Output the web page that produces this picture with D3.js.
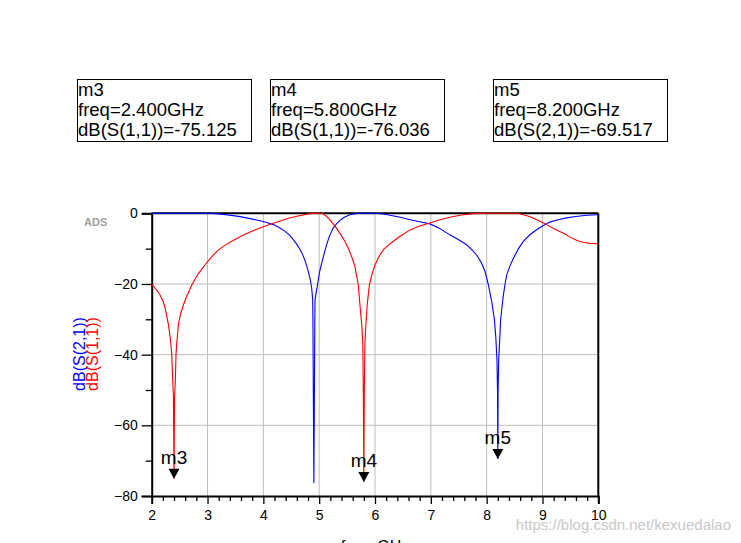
<!DOCTYPE html>
<html>
<head>
<meta charset="utf-8">
<script src="https://cdn.jsdelivr.net/npm/d3@7"></script>
<style>
  html, body { margin: 0; padding: 0; background: #fff; }
  svg { display: block; font-family: Arial, "Liberation Sans", sans-serif; }
</style>
</head>
<body>
<svg id="chart" width="741" height="543"></svg>
<script>
// ---------- data ----------
const freqS11 = [2.0, 2.05, 2.10, 2.15, 2.20, 2.24, 2.30, 2.33, 2.36, 2.375, 2.39, 2.40, 2.41, 2.425, 2.435, 2.45, 2.48, 2.52, 2.57, 2.63, 2.72, 2.83, 2.95, 3.07, 3.19, 3.34, 3.49, 3.67, 3.85, 4.0, 4.18, 4.3, 4.45, 4.66, 4.84, 4.95, 5.05, 5.12, 5.19, 5.25, 5.31, 5.37, 5.45, 5.52, 5.58, 5.64, 5.70, 5.73, 5.767, 5.782, 5.792, 5.80, 5.808, 5.818, 5.833, 5.86, 5.90, 5.95, 6.0, 6.07, 6.15, 6.27, 6.45, 6.63, 6.8, 6.985, 7.15, 7.34, 7.55, 7.76, 8.0, 8.3, 8.55, 8.66, 8.78, 8.90, 9.01, 9.13, 9.25, 9.37, 9.48, 9.58, 9.66, 9.73, 9.85, 10.0];
const dbS11 = [-20.0, -21.0, -22.0, -23.1, -24.8, -26.8, -31.5, -35.0, -40.0, -46.6, -52, -75.125, -52, -46.6, -40.0, -36.5, -31.3, -28.3, -25.8, -23.4, -20.2, -17.2, -14.7, -12.4, -10.4, -8.8, -7.4, -5.9, -4.7, -3.8, -2.8, -2.2, -1.4, -0.6, -0.1, 0, 0, -0.7, -1.8, -3.0, -4.2, -5.6, -7.6, -9.8, -12.2, -15.0, -20.2, -25.9, -32.5, -37.5, -52, -76.036, -52, -37.5, -32.5, -25.9, -20.2, -17.0, -14.6, -12.3, -10.3, -8.6, -6.5, -4.7, -3.6, -2.75, -1.9, -1.1, -0.5, -0.1, 0, 0, 0, -0.4, -1.0, -1.8, -2.7, -3.7, -4.7, -5.6, -6.6, -7.4, -7.9, -8.2, -8.5, -8.6];

const freqS21 = [2.0, 2.5, 3.0, 3.15, 3.28, 3.43, 3.58, 3.76, 3.94, 4.06, 4.18, 4.29, 4.39, 4.47, 4.54, 4.60, 4.66, 4.71, 4.75, 4.79, 4.82, 4.845, 4.866, 4.884, 4.888, 4.897, 4.905, 4.913, 4.922, 4.926, 4.945, 4.966, 4.99, 5.015, 5.06, 5.10, 5.14, 5.18, 5.25, 5.31, 5.37, 5.45, 5.55, 5.65, 5.75, 6.0, 6.15, 6.27, 6.45, 6.63, 6.8, 6.985, 7.15, 7.34, 7.5, 7.64, 7.73, 7.82, 7.9, 7.97, 8.03, 8.09, 8.14, 8.165, 8.185, 8.195, 8.20, 8.205, 8.215, 8.235, 8.25, 8.275, 8.30, 8.33, 8.36, 8.42, 8.48, 8.57, 8.66, 8.78, 8.90, 9.01, 9.13, 9.28, 9.43, 9.6, 9.79, 10.0];
const dbS21 = [0, 0, 0, -0.1, -0.3, -0.6, -0.95, -1.5, -2.1, -2.6, -3.2, -4.1, -5.1, -6.2, -7.5, -8.8, -10.3, -11.9, -13.6, -15.6, -17.4, -19.2, -21.2, -24.5, -30.5, -55, -76.3, -55, -30.5, -24.5, -22.5, -20.7, -18.2, -16.0, -13.2, -10.8, -8.6, -6.6, -4.2, -3.0, -2.0, -1.1, -0.4, -0.1, 0, 0, -0.2, -0.55, -1.1, -1.8, -2.4, -3.0, -4.2, -6.1, -7.5, -8.9, -10.2, -11.8, -13.8, -16.4, -20.2, -24.9, -30.2, -35.4, -41.6, -50.5, -69.517, -50.5, -41.6, -35.4, -30.2, -26.5, -23.1, -20.0, -17.4, -14.8, -12.7, -10.0, -7.9, -6.0, -4.6, -3.5, -2.5, -1.8, -1.3, -0.9, -0.57, -0.4];

const markerNames  = ["m3", "m4", "m5"];
const markerFreqs  = [2.4, 5.8, 8.2];
const markerValues = [-75.125, -76.036, -69.517];
const markerTraces = ["dB(S(1,1))", "dB(S(1,1))", "dB(S(2,1))"];

const xTicks = [2, 3, 4, 5, 6, 7, 8, 9, 10];
const yTicks = [-80, -60, -40, -20, 0];
const yMinorTicks = [-70, -50, -30, -10];

// ---------- layout ----------
const svg = d3.select("#chart");
const L = 151.7, R = 598.3, T = 213.3, B = 496;
const x = d3.scaleLinear().domain([2, 10]).range([L, R]);
const y = d3.scaleLinear().domain([-80, 0]).range([B, T]);

// grid
const grid = svg.append("g").attr("stroke", "#bdbdbd").attr("stroke-width", 1);
grid.selectAll("line.gx").data(xTicks.slice(1, -1)).join("line")
  .attr("x1", d => x(d)).attr("x2", d => x(d)).attr("y1", T).attr("y2", B);
grid.selectAll("line.gy").data(yTicks.slice(1, -1)).join("line")
  .attr("x1", L).attr("x2", R).attr("y1", d => y(d)).attr("y2", d => y(d));

// axes
const xAxis = svg.append("g").attr("transform", `translate(0,${B})`)
  .call(d3.axisBottom(x).tickValues(xTicks).tickSize(8).tickPadding(6).tickFormat(d3.format("d")));
const xMinor = d3.range(2, 10.001, 0.2).filter(v => Math.abs(v - Math.round(v)) > 1e-6);
svg.append("g").attr("transform", `translate(0,${B})`)
  .call(d3.axisBottom(x).tickValues(xMinor).tickSize(5).tickFormat(""))
  .call(g => g.select(".domain").remove());

const yAxis = svg.append("g").attr("transform", `translate(${L},0)`)
  .call(d3.axisLeft(y).tickValues(yTicks).tickSize(10).tickPadding(4).tickFormat(d3.format("d")));
svg.append("g").attr("transform", `translate(${L},0)`)
  .call(d3.axisLeft(y).tickValues(yMinorTicks).tickSize(6).tickFormat(""))
  .call(g => g.select(".domain").remove());

svg.selectAll(".tick line").attr("stroke", "#000").attr("stroke-width", 1.3);
svg.selectAll(".domain").attr("stroke", "#000").attr("stroke-width", 2);
xAxis.selectAll("text").attr("font-size", 14).attr("fill", "#000")
  .attr("font-family", "Arial, 'Liberation Sans', sans-serif");
yAxis.selectAll("text").attr("font-size", 14).attr("fill", "#000")
  .attr("font-family", "Arial, 'Liberation Sans', sans-serif");
xAxis.selectAll(".tick").filter(d => d === 2).select("line").remove();

// top & right frame
svg.append("line").attr("x1", L).attr("x2", R).attr("y1", T).attr("y2", T)
  .attr("stroke", "#000").attr("stroke-width", 2);
svg.append("line").attr("x1", R).attr("x2", R).attr("y1", T).attr("y2", B)
  .attr("stroke", "#000").attr("stroke-width", 2);

// traces
const line = d3.line().x(d => x(d[0])).y(d => y(d[1]));
svg.append("path").datum(d3.zip(freqS21, dbS21))
  .attr("d", line).attr("fill", "none").attr("stroke", "#0000ff").attr("stroke-width", 1.1);
svg.append("path").datum(d3.zip(freqS11, dbS11))
  .attr("d", line).attr("fill", "none").attr("stroke", "#ff0000").attr("stroke-width", 1.1);

// markers
markerNames.forEach((name, i) => {
  const mx = x(markerFreqs[i]), my = y(markerValues[i]);
  svg.append("path")
    .attr("d", `M${mx - 5.5},${my - 10} L${mx + 5.5},${my - 10} L${mx},${my} Z`)
    .attr("fill", "#000");
  svg.append("text").attr("x", mx).attr("y", my - 15)
    .attr("text-anchor", "middle").attr("font-size", 19).attr("fill", "#000").text(name);
});

// marker readout boxes
const boxX = [77, 270, 493];
markerNames.forEach((name, i) => {
  const g = svg.append("g").attr("transform", `translate(${boxX[i]},79)`);
  g.append("rect").attr("x", 0.5).attr("y", 0.5).attr("width", 174).attr("height", 62)
    .attr("fill", "#fff").attr("stroke", "#000").attr("stroke-width", 1);
  const lines = [name, `freq=${markerFreqs[i].toFixed(3)}GHz`, `${markerTraces[i]}=${markerValues[i].toFixed(3)}`];
  lines.forEach((t, j) => {
    g.append("text").attr("x", 1).attr("y", 17 + j * 20)
      .attr("font-size", 18.5).attr("fill", "#000").text(t);
  });
});

// ADS label
svg.append("text").attr("x", 84).attr("y", 226).attr("font-size", 11)
  .attr("font-weight", "bold").attr("fill", "#a0a0a0").text("ADS");

// y axis title (two rotated lines)
const yt = svg.append("text").attr("transform", "translate(85,354) rotate(-90)")
  .attr("text-anchor", "middle").attr("font-size", 16);
yt.append("tspan").attr("x", 0).attr("y", 0).attr("fill", "#0000ff").text("dB(S(2,1))");
yt.append("tspan").attr("x", 0).attr("y", 13).attr("fill", "#ff0000").text("dB(S(1,1))");

// x axis title
svg.append("text").attr("x", (L + R) / 2).attr("y", 552).attr("text-anchor", "middle")
  .attr("font-size", 16).attr("fill", "#000").text("freq, GHz");

// watermark
svg.append("text").attr("x", 731).attr("y", 530).attr("text-anchor", "end")
  .attr("font-size", 15).attr("fill", "#c8c8c8").text("https://blog.csdn.net/kexuedalao");
</script>
</body>
</html>
